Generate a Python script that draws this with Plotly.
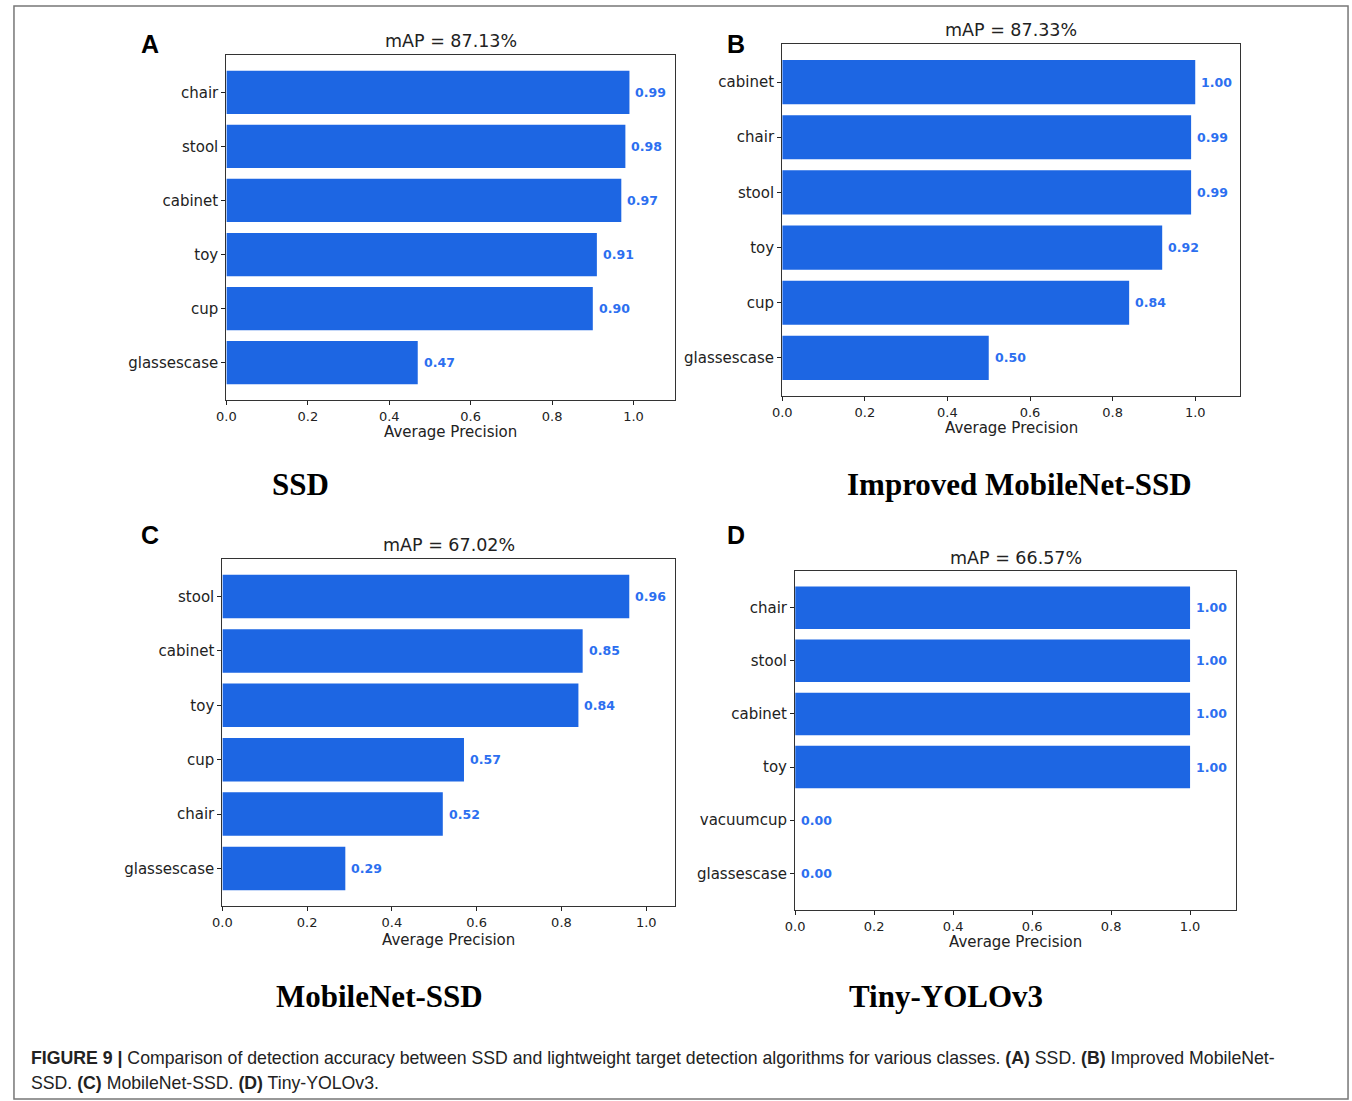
import plotly.graph_objects as go

W, H = 1352, 1101

# ---- data ----
cats_a = ["chair", "stool", "cabinet", "toy", "cup", "glassescase"]
vals_a = [0.99, 0.98, 0.97, 0.91, 0.90, 0.47]
map_a = "mAP = 87.13%"

cats_b = ["cabinet", "chair", "stool", "toy", "cup", "glassescase"]
vals_b = [1.00, 0.99, 0.99, 0.92, 0.84, 0.50]
map_b = "mAP = 87.33%"

cats_c = ["stool", "cabinet", "toy", "cup", "chair", "glassescase"]
vals_c = [0.96, 0.85, 0.84, 0.57, 0.52, 0.29]
map_c = "mAP = 67.02%"

cats_d = ["chair", "stool", "cabinet", "toy", "vacuumcup", "glassescase"]
vals_d = [1.00, 1.00, 1.00, 1.00, 0.00, 0.00]
map_d = "mAP = 66.57%"

panel_letters = ["A", "B", "C", "D"]
model_names = ["SSD", "Improved MobileNet-SSD", "MobileNet-SSD", "Tiny-YOLOv3"]
xmax = [1.102, 1.108, 1.068, 1.116]

BAR = "#1d66e3"
TXT = "#2c6ff0"
DV = "DejaVu Sans"

def px(x):
    return x / W

def py(y):
    return 1 - y / H

boxes = [(218, 670, 55, 400), (778, 1239, 44, 396), (214, 670, 559, 906), (791, 1235, 571, 910)]
title_y = [41, 30, 545, 558]
xlabel_y = [432, 428, 940, 942]
letter_pos = [(141, 44), (731, 44), (141, 535), (731, 535)]
name_pos = [(293, 485), (1017, 485), (372, 996), (943, 996)]

panels = [(cats_a, vals_a, map_a), (cats_b, vals_b, map_b), (cats_c, vals_c, map_c), (cats_d, vals_d, map_d)]

fig = go.Figure()
annotations = []
for i, (cats, vals, ttl) in enumerate(panels):
    n = i + 1
    xa = "x" if n == 1 else f"x{n}"
    ya = "y" if n == 1 else f"y{n}"
    fig.add_trace(go.Bar(
        x=vals, y=cats, orientation="h", width=0.8,
        marker=dict(color=BAR, line=dict(width=0)),
        xaxis=xa, yaxis=ya, showlegend=False, hoverinfo="x+y",
    ))
    for c, v in zip(cats, vals):
        annotations.append(dict(
            x=v, y=c, xref=xa, yref=ya, text=f"{v:.2f}", showarrow=False,
            xanchor="left", yanchor="middle", xshift=4,
            font=dict(family=DV, size=12.5, color=TXT, weight="bold"),
        ))
    l, r, t, b = boxes[i]
    xkey = "xaxis" if n == 1 else f"xaxis{n}"
    ykey = "yaxis" if n == 1 else f"yaxis{n}"
    fig.update_layout({
        xkey: dict(
            domain=[px(l), px(r)], anchor=ya, range=[0, xmax[i]],
            tickvals=[0, 0.2, 0.4, 0.6, 0.8, 1.0],
            ticktext=["0.0", "0.2", "0.4", "0.6", "0.8", "1.0"],
            ticks="outside", ticklen=4, tickwidth=1, tickcolor="#222",
            showline=True, linecolor="#333", linewidth=1.3, mirror=True,
            showgrid=False, zeroline=False,
            tickfont=dict(family=DV, size=13, color="#222"),
        ),
        ykey: dict(
            domain=[py(b), py(t)], anchor=xa, type="category",
            categoryorder="array", categoryarray=cats,
            range=[5.69, -0.69],
            ticks="outside", ticklen=4, tickwidth=1, tickcolor="#222",
            showline=True, linecolor="#333", linewidth=1.3, mirror=True,
            showgrid=False, zeroline=False,
            tickfont=dict(family=DV, size=15, color="#222"),
        ),
    })
    cx = (l + r) / 2
    annotations.append(dict(
        x=px(cx), y=py(title_y[i]), xref="paper", yref="paper", text=ttl,
        showarrow=False, xanchor="center", yanchor="middle",
        font=dict(family=DV, size=17.5, color="#222"),
    ))
    annotations.append(dict(
        x=px(cx), y=py(xlabel_y[i]), xref="paper", yref="paper", text="Average Precision",
        showarrow=False, xanchor="center", yanchor="middle",
        font=dict(family=DV, size=15, color="#222"),
    ))
    lx, ly = letter_pos[i]
    annotations.append(dict(
        x=px(lx), y=py(ly), xref="paper", yref="paper", text=f"<b>{panel_letters[i]}</b>",
        showarrow=False, xanchor="center", yanchor="middle",
        font=dict(family="Liberation Sans", size=25, color="#000"),
    ))
    nx, ny = name_pos[i]
    annotations.append(dict(
        x=px(nx), y=py(ny), xref="paper", yref="paper", text=f"<b>{model_names[i]}</b>",
        showarrow=False, xanchor="center", yanchor="middle",
        font=dict(family="Liberation Serif", size=31, color="#000"),
    ))

cap1 = ("<b>FIGURE 9 |</b> Comparison of detection accuracy between SSD and lightweight target detection "
        "algorithms for various classes. <b>(A)</b> SSD. <b>(B)</b> Improved MobileNet-")
cap2 = "SSD. <b>(C)</b> MobileNet-SSD. <b>(D)</b> Tiny-YOLOv3."
for txt, yy in [(cap1, 1058), (cap2, 1083)]:
    annotations.append(dict(
        x=px(19), y=py(yy), xref="paper", yref="paper", text=txt,
        showarrow=False, xanchor="left", yanchor="middle",
        font=dict(family="Liberation Sans", size=17.7, color="#222"),
    ))

shapes = [dict(type="rect", xref="paper", yref="paper",
               x0=px(4), x1=px(1348), y0=py(1099), y1=py(6),
               line=dict(color="#777", width=1.5), fillcolor="rgba(0,0,0,0)", layer="above")]

fig.update_layout(
    width=W, height=H, margin=dict(l=0, r=0, t=0, b=0),
    paper_bgcolor="white", plot_bgcolor="white",
    annotations=annotations, bargap=0.2, shapes=shapes,
)

fig.write_html(
    "out.html",
    config={"displayModeBar": False},
    post_script=(
        "document.documentElement.style.margin='0';"
        "document.body.style.margin='0';document.body.style.padding='0';"
        "document.body.style.overflow='hidden';"
        "var d=document.getElementById('{plot_id}');"
        "d.style.position='absolute';d.style.left='0px';d.style.top='0px';"
    ),
)
